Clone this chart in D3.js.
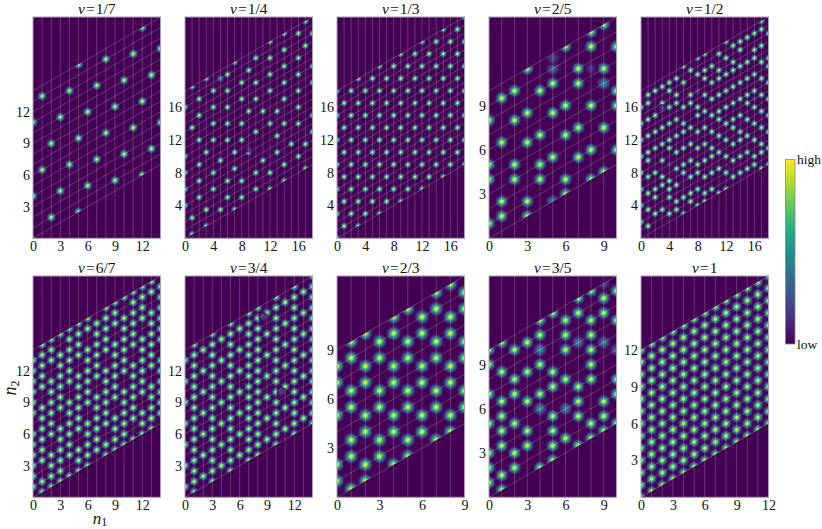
<!DOCTYPE html>
<html><head><meta charset="utf-8">
<script src="https://cdn.jsdelivr.net/npm/d3@7"></script>
<style>html,body{margin:0;padding:0;background:#fff}svg{display:block}
text{font-family:"Liberation Serif",serif;fill:#111}</style></head>
<body><svg id="c" width="822" height="529"></svg>
<script>
// Occupied lattice sites: index = n1, entries = row k (n2 = k + n1/2)
const sites17=[[4,11],[6,13],[1,8],[3,10],[5,12],[0,7,14],[2,9],[4,11],[6,13],[1,8],[3,10],[5,12],[0,7,14],[2,9],[4,11]];
const sites14=[[4,6,8,10,16],[0,2,13,18],[4,6,8,11,14,16],[0,2,9,18],[4,6,10,12,14,16],[1,7],[2,4,9,11,13,15,17],[0,5,7,18],[1,3,8,10,13,15],[6,11,16],[1,3,8,12,14,17],[4,10],[0,2,8,12,14,16,18],[4,6,9],[0,2,7,10,12,14,16,18],[4],[2,6,8,10,12,14,17],[0,3,15,18],[4,6,10,12,16]];
const sites13=[[0,3,6,9,12,15,18],[1,4,7,10,13,16],[2,5,8,11,14,17],[0,3,6,9,12,15,18],[1,4,7,10,13,16],[2,5,8,11,14,17],[0,3,6,9,12,15,18],[1,4,7,10,13,16],[2,5,8,11,14,17],[0,3,6,9,12,15,18],[1,4,7,10,13,16],[2,5,8,11,14,17],[0,3,6,9,12,15,18],[1,4,7,10,13,16],[2,5,8,11,14,17],[0,3,6,9,12,15,18],[1,4,7,10,13,16],[2,5,8,11,14,17],[0,3,6,9,12,15,18]];
const sites25=[[1,4,5,8],[1,2,6,9],[3,4,7,9],[0,1,5,7,10],[2,3,5,8],[3,6,8],[0,1,4,6,10],[2,4,7,8],[0,2,5,9,10],[0,3,7,10],[1,4,5,8]];
const sites12=[[2,4,6,8,10,12,14,16],[1,3,5,7,9,10,12,14,16,17],[2,4,5,7,10,12,14,17],[2,5,6,8,10,12,15,17],[1,3,4,5,7,9,10,12,14,16,17],[1,2,4,6,8,10,12,14,15,17],[0,2,5,6,8,10,11,13,16,18],[1,2,4,6,8,10,13,14,17],[0,2,4,5,7,9,11,12,14,16,18],[0,1,3,5,7,9,11,13,15,16,18],[1,3,5,6,8,10,12,14,16],[0,3,5,7,9,10,12,14,15,17],[0,2,4,6,8,10,12,14,16,18],[1,3,5,7,8,10,12,14,15,17],[1,3,5,6,8,10,12,14,16,17],[1,3,5,7,9,10,12,14,17],[1,2,4,6,8,10,12,14,15,17],[0,2,3,5,7,9,11,13,15,17,18],[0,2,4,6,8,10,12,13,16]];
const sites67=[[1,2,3,4,5,6,8,9,10,11,12,13],[0,1,3,4,5,6,7,8,10,11,12,13,14],[0,1,2,3,5,6,7,8,9,10,12,13,14],[0,1,2,3,4,5,7,8,9,10,11,12,14],[0,2,3,4,5,6,7,9,10,11,12,13,14],[0,1,2,4,5,6,7,8,9,11,12,13,14],[0,1,2,3,4,6,7,8,9,10,11,13,14],[1,2,3,4,5,6,8,9,10,11,12,13],[0,1,3,4,5,6,7,8,10,11,12,13,14],[0,1,2,3,5,6,7,8,9,10,12,13,14],[0,1,2,3,4,5,7,8,9,10,11,12,14],[0,2,3,4,5,6,7,9,10,11,12,13,14],[0,1,2,4,5,6,7,8,9,11,12,13,14],[0,1,2,3,4,6,7,8,9,10,11,13,14],[1,2,3,4,5,6,8,9,10,11,12,13]];
const sites34=[[1,3,5,7,9,11,13],[0,1,2,3,4,5,6,7,8,9,10,11,12,13,14],[1,3,5,7,9,11,13],[0,1,2,3,4,5,6,7,8,9,10,11,12,13,14],[1,3,5,7,9,11,13],[0,1,2,3,4,5,6,7,8,9,10,11,12,13,14],[1,3,5,7,9,11,13],[0,1,2,3,4,5,6,7,8,9,10,11,12,13,14],[0,1,2,3,4,5,6,7,8,9,10,11,12,13,14],[1,3,5,7,9,11,13],[0,1,2,3,4,5,6,7,8,9,10,11,12,13,14],[1,3,5,7,9,11,13],[0,1,2,3,4,5,6,7,8,9,10,11,12,13,14],[1,3,5,7,9,11,13],[0,1,2,3,4,5,6,7,8,9,10,11,12,13,14]];
const sites23=[[1,2,5,7,8],[0,2,3,5,6,8,9],[0,1,3,4,6,7,9],[1,2,4,5,7,8],[0,2,3,5,6,8,9],[0,1,3,4,6,7,9],[1,2,4,5,7,8],[0,2,3,5,6,8,9],[0,1,3,4,6,7,9],[1,2,4,5,7,8]];
const sites35=[[1,2,3,5,7,9,10],[0,1,3,4,5,6,8,10],[1,2,4,6,7,9],[2,3,5,7,9],[0,5,7,8,9,10],[0,1,2,3,5,6,10],[1,5,7,8,9],[0,2,3,4,9,10],[0,1,4,5,6,7,8,10],[0,1,2,8,9],[0,2,3,7,9]];
const sites1=[[0,1,2,3,4,5,6,7,8,9,10,11,12],[0,1,2,3,4,5,6,7,8,9,10,11,12],[0,1,2,3,4,5,6,7,8,9,10,11,12],[0,1,2,3,4,5,6,7,8,9,10,11,12],[0,1,2,3,4,5,6,7,8,9,10,11,12],[0,1,2,3,4,5,6,7,8,9,10,11,12],[0,1,2,3,4,5,6,7,8,9,10,11,12],[0,1,2,3,4,5,6,7,8,9,10,11,12],[0,1,2,3,4,5,6,7,8,9,10,11,12],[0,1,2,3,4,5,6,7,8,9,10,11,12],[0,1,2,3,4,5,6,7,8,9,10,11,12],[0,1,2,3,4,5,6,7,8,9,10,11,12],[0,1,2,3,4,5,6,7,8,9,10,11,12]];
// Fainter blobs: [n1, k, peak level]
const faint14=[[5,17,.5],[9,6.4,.14]];
const faint25=[[5,0,.5],[5,9,.35],[5,9.7,.22],[9,6,.5],[8,7.5,.14]];
const faint12=[[3,14.4,.18],[8,14,.14],[16,9,.14],[4,7,.14]];
const faint34=[[8.6,12.8,.22],[10.6,4.7,.22]];
const faint35=[[4,4,.5],[6,3,.45],[7,7,.45],[9,6,.45],[10,5,.35],[4,8,.5],[9,10,.22],[7,11,.22]];
const faint67=[],faint13=[],faint17=[],faint23=[],faint1=[];
// Titles and tick labels
const titles=["1/7","1/4","1/3","2/5","1/2","6/7","3/4","2/3","3/5","1"];
const xTicks3=[0,3,6,9,12], yTicks3=[3,6,9,12];
const xTicks4=[0,4,8,12,16], yTicks4=[4,8,12,16];
const xTicks9=[0,3,6,9], yTicks9=[3,6,9];
const sizes=[14,18,18,10,18,14,14,9,10,12];
const allSites=[sites17,sites14,sites13,sites25,sites12,sites67,sites34,sites23,sites35,sites1];
const allFaint=[faint17,faint14,faint13,faint25,faint12,faint67,faint34,faint23,faint35,faint1];
const allX=[xTicks3,xTicks4,xTicks4,xTicks9,xTicks4,xTicks3,xTicks3,xTicks9,xTicks9,xTicks3];
const allY=[yTicks3,yTicks4,yTicks4,yTicks9,yTicks4,yTicks3,yTicks3,yTicks9,yTicks9,yTicks3];

const svg=d3.select("#c"), defs=svg.append("defs");
const color=d3.scaleSequential(d3.interpolateViridis).domain([0,1]);
const LOW=color(0);
// radial blob gradients, one per peak level
function blobGradient(level){
  const id="blob"+Math.round(level*100);
  if(!defs.select("#"+id).empty()) return id;
  const g=defs.append("radialGradient").attr("id",id);
  d3.range(0,1.0001,.1).forEach(t=>{
    const v=level*Math.exp(-t*t*3.6);
    g.append("stop").attr("offset",t).attr("stop-color",color(v))
     .attr("stop-opacity",t>=1?0:Math.min(1,(1-t)*3));
  });
  return id;
}
const PW=127.5, PH=221.3, colX=[33,185,337,489,641], rowY=[17,276];

sizes.forEach((L,i)=>{
  const left=colX[i%5], top=rowY[Math.floor(i/5)];
  const x=d3.scaleLinear().domain([0,L]).range([0,PW]);
  const y=d3.scaleLinear().domain([0,1.5*L]).range([PH,0]);
  const g=svg.append("g").attr("transform",`translate(${left},${top})`);
  g.append("rect").attr("width",PW).attr("height",PH).attr("fill",LOW);
  const clipId="clip"+i, line=d3.line().x(d=>x(d[0])).y(d=>y(d[1]));
  defs.append("clipPath").attr("id",clipId).append("path")
    .attr("d",line([[0,0],[L,L/2],[L,1.5*L],[0,L]])+"Z");
  const blobs=[];
  allSites[i].forEach((col,n1)=>col.forEach(k=>blobs.push({n1,k,v:1})));
  allFaint[i].forEach(d=>blobs.push({n1:d[0],k:d[1],v:d[2]}));
  const R=x(1)*0.6;
  g.append("g").attr("clip-path",`url(#${clipId})`).selectAll("circle").data(blobs).join("circle")
    .attr("cx",d=>x(d.n1)).attr("cy",d=>y(d.k+d.n1/2))
    .attr("r",d=>d.v<1?R*1.1:R)
    .attr("fill",d=>`url(#${blobGradient(d.v)})`);
  const gl=g.append("g").attr("stroke","#fff").attr("stroke-opacity",.26).attr("stroke-width",.8).attr("fill","none");
  gl.selectAll("line.v").data(d3.range(1,L)).join("line").attr("class","v")
    .attr("x1",d=>x(d)).attr("x2",d=>x(d)).attr("y1",0).attr("y2",PH);
  gl.selectAll("line.s").data(d3.range(0,L+1)).join("line").attr("class","s")
    .attr("x1",x(0)).attr("x2",x(L)).attr("y1",d=>y(d)).attr("y2",d=>y(d+L/2));
  g.append("rect").attr("width",PW).attr("height",PH).attr("fill","none").attr("stroke","#a99fb0").attr("stroke-width",1);
  const ax=g.append("g").attr("transform",`translate(0,${PH})`)
    .call(d3.axisBottom(x).tickValues(allX[i]).tickSize(0).tickPadding(3).tickFormat(d3.format("d")));
  const ay=g.append("g")
    .call(d3.axisLeft(y).tickValues(allY[i]).tickSize(0).tickPadding(3).tickFormat(d3.format("d")));
  [ax,ay].forEach(a=>{a.select(".domain").remove();
    a.selectAll("text").style("font-family",'"Liberation Serif",serif').style("font-size","14px").attr("fill","#111");});
  const t=g.append("text").attr("x",PW/2).attr("y",-3).attr("text-anchor","middle").attr("font-size",15.5);
  t.append("tspan").attr("font-style","italic").text("\u03bd");
  t.append("tspan").attr("dx",1).text("=");
  t.append("tspan").attr("dx",1).text(titles[i]);
});

// axis names
const xn=svg.append("text").attr("x",100).attr("y",524).attr("text-anchor","middle").attr("font-size",17);
xn.append("tspan").attr("font-style","italic").text("n");
xn.append("tspan").attr("dy",2).attr("font-size",12).text("1");
const yn=svg.append("text").attr("transform","translate(16,388) rotate(-90)").attr("text-anchor","middle").attr("font-size",18);
yn.append("tspan").attr("font-style","italic").text("n");
yn.append("tspan").attr("dy",3).attr("font-size",12).text("2");

// colour bar
const cb=defs.append("linearGradient").attr("id","cbar").attr("x1",0).attr("x2",0).attr("y1",1).attr("y2",0);
d3.range(0,1.001,.1).forEach(t=>cb.append("stop").attr("offset",t).attr("stop-color",color(t)));
svg.append("rect").attr("x",785.5).attr("y",159.5).attr("width",9.5).attr("height",184.5)
  .attr("fill","url(#cbar)").attr("stroke","#888").attr("stroke-width",.8);
svg.append("text").attr("x",797).attr("y",164).attr("font-size",13.5).text("high");
svg.append("text").attr("x",797).attr("y",349).attr("font-size",13.5).text("low");
</script></body></html>
